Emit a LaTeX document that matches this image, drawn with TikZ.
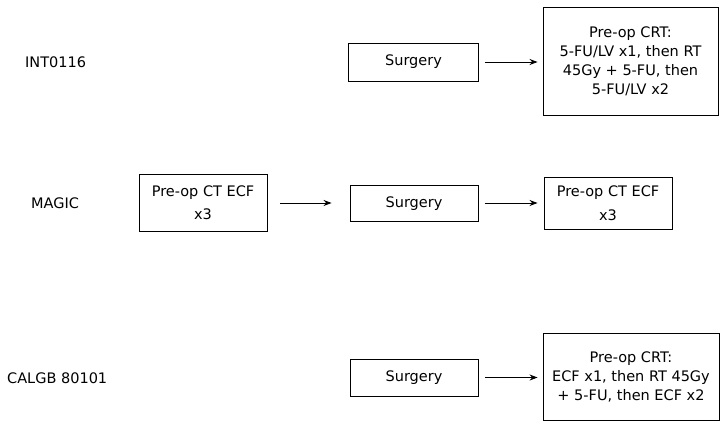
\documentclass[tikz,border=0pt]{standalone}
\usepackage{fontspec}
\setmainfont{DejaVu Sans}
\usetikzlibrary{arrows.meta}
\begin{document}
\begin{tikzpicture}[x=1pt,y=-1pt,
  every node/.style={font=\fontsize{14.5}{19}\selectfont, inner sep=0pt},
  box/.style={draw, line width=0.9pt, align=center},
  one/.style={text height=10pt, text depth=2pt},
  lbl/.style={anchor=west},
  conn/.style={line width=0.9pt, -{Stealth[length=8pt,width=6pt]}}]
\useasboundingbox (0,0) rectangle (722,428);
% Row 1
\node[lbl] (l1) at (25,62) {INT0116};
\node[box, one, minimum width=130pt, minimum height=38pt] (s1) at (413.5,62) {Surgery};
\node[box, minimum width=175pt, minimum height=108pt] (c1) at (630.5,61)
  {Pre-op CRT:\\5-FU/LV x1, then RT\\45Gy + 5-FU, then\\5-FU/LV x2};
\draw[conn, shorten <=6pt, shorten >=5pt] (s1.east) -- (c1.west |- s1.east);
% Row 2
\node[lbl] (l2) at (31,203) {MAGIC};
\node[box, minimum width=128pt, minimum height=57pt, font=\fontsize{14.5}{23}\selectfont] (p2) at (203,202.5) {Pre-op CT ECF\\x3};
\node[box, one, minimum width=128pt, minimum height=36pt] (s2) at (414,203) {Surgery};
\node[box, minimum width=128pt, minimum height=52pt, font=\fontsize{14.5}{24}\selectfont] (e2) at (608,203) {Pre-op CT ECF\\x3};
\draw[conn, shorten <=13pt, shorten >=18pt] (p2.east |- s2.east) -- (s2.west);
\draw[conn, shorten <=7pt, shorten >=6pt] (s2.east) -- (e2.west |- s2.east);
% Row 3
\node[lbl] (l3) at (7,378) {CALGB 80101};
\node[box, one, minimum width=128pt, minimum height=37pt] (s3) at (414,377.5) {Surgery};
\node[box, minimum width=176pt, minimum height=87pt] (c3) at (631,376.5)
  {Pre-op CRT:\\ECF x1, then RT 45Gy\\+ 5-FU, then ECF x2};
\draw[conn, shorten <=7pt, shorten >=5pt] (s3.east) -- (c3.west |- s3.east);
\end{tikzpicture}
\end{document}
